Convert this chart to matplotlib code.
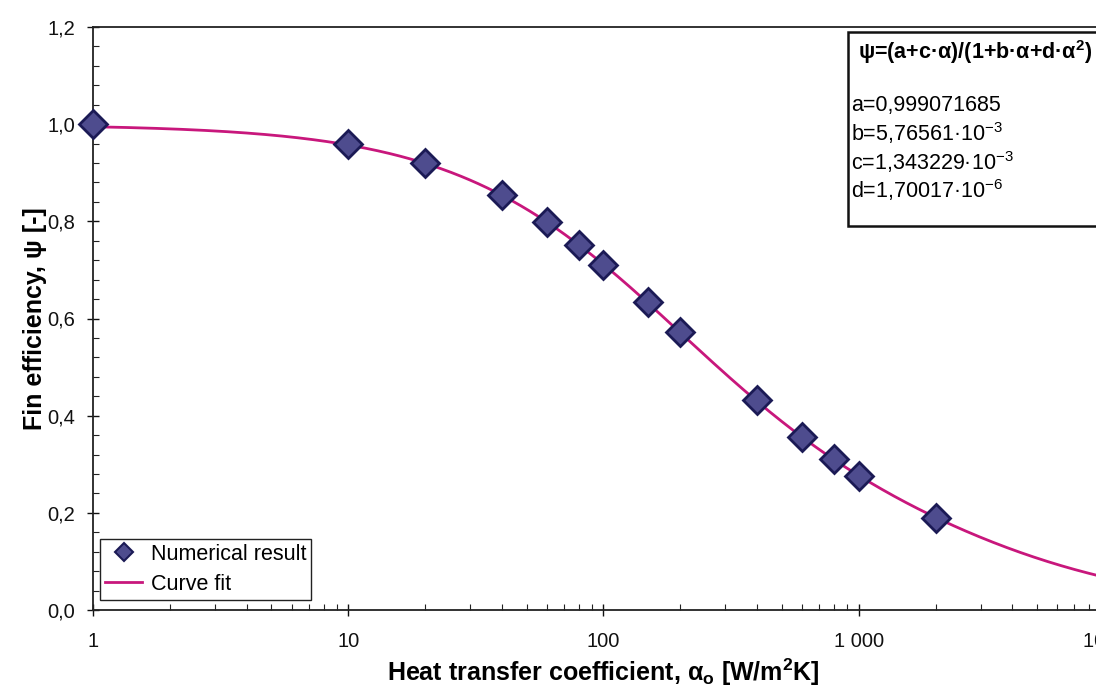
import numpy as np
import matplotlib
matplotlib.use("Agg")
import matplotlib.pyplot as plt
from matplotlib.lines import Line2D
from matplotlib.patches import Rectangle
from matplotlib.ticker import FixedLocator, MultipleLocator, FuncFormatter, LogLocator

plt.rcParams['font.family'] = ['Liberation Sans', 'DejaVu Sans']
plt.rcParams['mathtext.fontset'] = 'custom'
plt.rcParams['mathtext.rm'] = 'Liberation Sans'
plt.rcParams['mathtext.bf'] = 'Liberation Sans:bold'

# Numerical results: heat transfer coefficient vs. fin efficiency
alpha_num = [1, 10, 20, 40, 60, 80, 100, 150, 200, 400, 600, 800, 1000, 2000]
psi_num = [1.000, 0.960, 0.920, 0.854, 0.798, 0.751, 0.710, 0.633, 0.572,
           0.432, 0.357, 0.310, 0.276, 0.190]

# Curve-fit coefficients psi = (a + c*alpha) / (1 + b*alpha + d*alpha^2)
coef_a = 0.999071685
coef_b = 5.76561e-3
coef_c = 1.343229e-3
coef_d = 1.70017e-6

x_ticks = [1, 10, 100, 1000, 10000]
y_ticks = [0.0, 0.2, 0.4, 0.6, 0.8, 1.0, 1.2]

W, H = 1096, 690
fig = plt.figure(figsize=(W / 100, H / 100), dpi=100)
ax = fig.add_axes([93 / W, 1 - 610 / H, 1021 / W, 583 / H])

alpha_fit = np.logspace(0, 4, 600)
psi_fit = (coef_a + coef_c * alpha_fit) / (1 + coef_b * alpha_fit + coef_d * alpha_fit ** 2)

line_col = '#c8177c'
mk_face = '#4e4c8e'
mk_edge = '#1b1a55'

ax.plot(alpha_fit, psi_fit, color=line_col, lw=2.0, zorder=2, clip_on=False)
ax.plot(alpha_num, psi_num, linestyle='none', marker='D', markersize=14.5,
        markerfacecolor=mk_face, markeredgecolor=mk_edge, markeredgewidth=2,
        zorder=3, clip_on=False)

ax.set_xscale('log')
ax.set_xlim(1, 10000)
ax.set_ylim(0, 1.2)

ax.xaxis.set_major_locator(FixedLocator(x_ticks))
ax.xaxis.set_minor_locator(LogLocator(base=10, subs=np.arange(2, 10)))
ax.xaxis.set_major_formatter(FuncFormatter(lambda v, p: f"{int(round(v)):,}".replace(',', ' ')))
ax.xaxis.set_minor_formatter(FuncFormatter(lambda v, p: ''))

ax.yaxis.set_major_locator(FixedLocator(y_ticks))
ax.yaxis.set_minor_locator(MultipleLocator(0.04))
ax.yaxis.set_major_formatter(FuncFormatter(lambda v, p: f"{v:.1f}".replace('.', ',')))

ax.tick_params(which='major', direction='inout', length=8, width=1.0,
               labelsize=14.5, colors='#111111')
ax.tick_params(axis='x', which='major', pad=12)
ax.tick_params(axis='y', which='major', pad=9)
ax.tick_params(which='minor', direction='in', length=4, width=0.8, colors='#222222')

for s in ax.spines.values():
    s.set_linewidth(1.3)
    s.set_color('#222222')

ax.set_xlabel(r"Heat transfer coefficient, α$_\mathbf{o}$ [W/m$^\mathbf{2}$K]",
              fontsize=18, fontweight='bold', labelpad=4)
ax.set_ylabel("Fin efficiency, ψ [-]", fontsize=18, fontweight='bold', labelpad=0)

# Legend
h_pts = Line2D([], [], linestyle='none', marker='D', markersize=9,
               markerfacecolor=mk_face, markeredgecolor=mk_edge, markeredgewidth=1.5)
h_fit = Line2D([], [], color=line_col, lw=2.0)
leg = ax.legend([h_pts, h_fit], ["Numerical result", "Curve fit"],
                loc='lower left', bbox_to_anchor=(7 / 1021, 10 / 583),
                borderaxespad=0, fontsize=15.5, fancybox=False, framealpha=1,
                edgecolor='#222222', handlelength=1.7, handletextpad=0.4,
                borderpad=0.25, labelspacing=0.4)
leg.get_frame().set_linewidth(1.0)

# Coefficient box
box = Rectangle((848 / W, 1 - 226 / H), 300 / W, 194 / H, transform=fig.transFigure,
                facecolor='white', edgecolor='#111111', lw=1.8, zorder=5)
fig.patches.append(box)
fig.text(858 / W, 1 - 52 / H, "ψ=(a+c·α)/(1+b·α+d·α$^\\mathbf{2}$)", fontsize=15.5,
         fontweight='bold', va='center', ha='left', zorder=6)
lines = [
    "a=0,999071685",
    "b=5,76561·10$^\\mathregular{-3}$",
    "c=1,343229·10$^\\mathregular{-3}$",
    "d=1,70017·10$^\\mathregular{-6}$",
]
for i, t in enumerate(lines):
    fig.text(851 / W, 1 - (105 + 28.5 * i) / H, t, fontsize=15.5, va='center',
             ha='left', zorder=6)

fig.savefig("out.png", dpi=100)
